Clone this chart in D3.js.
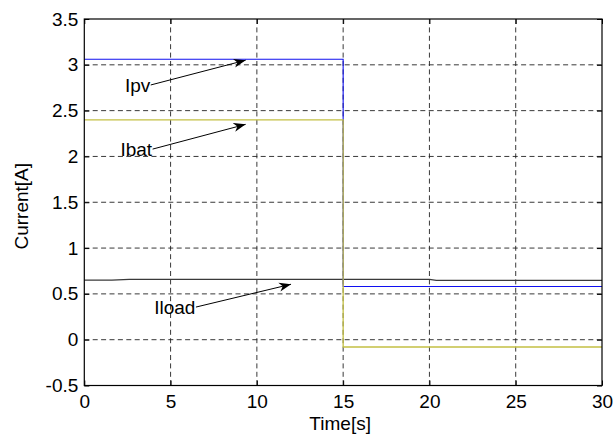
<!DOCTYPE html>
<html>
<head>
<meta charset="utf-8">
<script src="https://cdn.jsdelivr.net/npm/d3@7"></script>
<style>
  html, body { margin: 0; padding: 0; background: #fff; }
  svg { display: block; }
  text { font-family: "Liberation Sans", Arial, Helvetica, sans-serif; fill: #000; }
</style>
</head>
<body>
<svg id="chart" width="613" height="442"></svg>
<script>
// Time axis and current axis ticks
const xTicks = [0, 5, 10, 15, 20, 25, 30];
const yTicks = [-0.5, 0, 0.5, 1, 1.5, 2, 2.5, 3, 3.5];

// PV current (step at t = 15 s)
const ipvTime  = [0, 15, 15, 30];
const ipvValue = [3.06, 3.06, 0.58, 0.58];

// Battery current
const ibatTime  = [0, 15, 15, 30];
const ibatValue = [2.40, 2.40, -0.08, -0.08];

// Load current
const iloadTime  = [0, 1.6, 2.6, 15, 20, 20.4, 30];
const iloadValue = [0.650, 0.650, 0.658, 0.658, 0.658, 0.647, 0.647];

// Annotation labels: text, tail (t, I) and arrow tip (t, I)
const labelNames = ["Ipv", "Ibat", "Iload"];
const labelTail  = [[3.85, 2.78], [3.96, 2.08], [6.47, 0.356]];
const labelTip   = [[9.35, 3.05], [9.35, 2.35], [11.98, 0.605]];

const margin = { left: 84.3, right: 11, top: 19, bottom: 56.5 };
const W = 613, H = 442;
const svg = d3.select("#chart");

const x = d3.scaleLinear().domain([0, 30]).range([margin.left, W - margin.right]);
const y = d3.scaleLinear().domain([-0.5, 3.5]).range([H - margin.bottom, margin.top]);

const x0 = x.range()[0], x1 = x.range()[1];
const y0 = y.range()[0], y1 = y.range()[1];

// Dashed grid
const grid = svg.append("g");
grid.selectAll("line.gx").data(xTicks.slice(1, -1)).join("line")
  .attr("x1", d => x(d)).attr("x2", d => x(d))
  .attr("y1", y1).attr("y2", y0)
  .attr("stroke", "#222").attr("stroke-width", 0.9)
  .attr("stroke-dasharray", "5,3.4");
grid.selectAll("line.gy").data(yTicks.slice(1, -1)).join("line")
  .attr("x1", x0).attr("x2", x1)
  .attr("y1", d => y(d)).attr("y2", d => y(d))
  .attr("stroke", "#222").attr("stroke-width", 0.9)
  .attr("stroke-dasharray", "5,3.4");

// Series lines
const line = d3.line().x(d => x(d[0])).y(d => y(d[1]));
function series(times, values, color, w) {
  svg.append("path")
    .datum(times.map((t, i) => [t, values[i]]))
    .attr("d", line)
    .attr("fill", "none")
    .attr("stroke", color)
    .attr("stroke-width", w);
}
series(iloadTime, iloadValue, "#3a3a3a", 1.1);
series(ipvTime, ipvValue, "#1010f0", 1.1);
series(ibatTime, ibatValue, "#c4c044", 1.3);

// Axes with inward ticks on all four sides
const fs = "19px";
const plain = d => String(d);
const axB = svg.append("g").attr("transform", `translate(0,${y0})`)
  .call(d3.axisBottom(x).tickValues(xTicks).tickFormat(plain).tickSizeInner(-5).tickSizeOuter(0).tickPadding(9));
const axL = svg.append("g").attr("transform", `translate(${x0},0)`)
  .call(d3.axisLeft(y).tickValues(yTicks).tickFormat(plain).tickSizeInner(-5).tickSizeOuter(0).tickPadding(6));
const axT = svg.append("g").attr("transform", `translate(0,${y1})`)
  .call(d3.axisTop(x).tickValues(xTicks).tickSizeInner(-5).tickSizeOuter(0).tickFormat(""));
const axR = svg.append("g").attr("transform", `translate(${x1},0)`)
  .call(d3.axisRight(y).tickValues(yTicks).tickSizeInner(-5).tickSizeOuter(0).tickFormat(""));
[axB, axL, axT, axR].forEach(a => {
  a.select(".domain").remove();
  a.selectAll("line").attr("stroke", "#000");
  a.selectAll("text").style("font-size", fs).attr("fill", "#000")
    .style("font-family", '"Liberation Sans", Arial, sans-serif');
});
axB.selectAll("text").attr("dy", "0.71em");

// Plot box
svg.append("rect")
  .attr("x", x0).attr("y", y1)
  .attr("width", x1 - x0).attr("height", y0 - y1)
  .attr("fill", "none").attr("stroke", "#000").attr("stroke-width", 1.2);

// Axis titles
svg.append("text")
  .attr("x", (x0 + x1) / 2 - 3).attr("y", 430)
  .attr("text-anchor", "middle").style("font-size", fs)
  .text("Time[s]");
svg.append("text")
  .attr("transform", `translate(28,${(y0 + y1) / 2 + 4}) rotate(-90)`)
  .attr("text-anchor", "middle").style("font-size", fs)
  .text("Current[A]");

// Arrowhead
svg.append("defs").append("marker")
  .attr("id", "head")
  .attr("viewBox", "0 0 12 10")
  .attr("refX", 12).attr("refY", 5)
  .attr("markerWidth", 12).attr("markerHeight", 10)
  .attr("markerUnits", "userSpaceOnUse")
  .attr("orient", "auto")
  .append("path")
  .attr("d", "M0,0.5 L12,5 L0,9.5 L3.5,5 Z")
  .attr("fill", "#000");

// Labels with arrows
const ann = svg.append("g");
labelNames.forEach((name, i) => {
  const [tx, ty] = labelTail[i];
  const [hx, hy] = labelTip[i];
  ann.append("line")
    .attr("x1", x(tx)).attr("y1", y(ty))
    .attr("x2", x(hx)).attr("y2", y(hy))
    .attr("stroke", "#000").attr("stroke-width", 1)
    .attr("marker-end", "url(#head)");
  ann.append("text")
    .attr("x", x(tx) - 0.5).attr("y", y(ty))
    .attr("dy", "0.36em")
    .attr("text-anchor", "end")
    .style("font-size", fs)
    .text(name);
});
</script>
</body>
</html>
